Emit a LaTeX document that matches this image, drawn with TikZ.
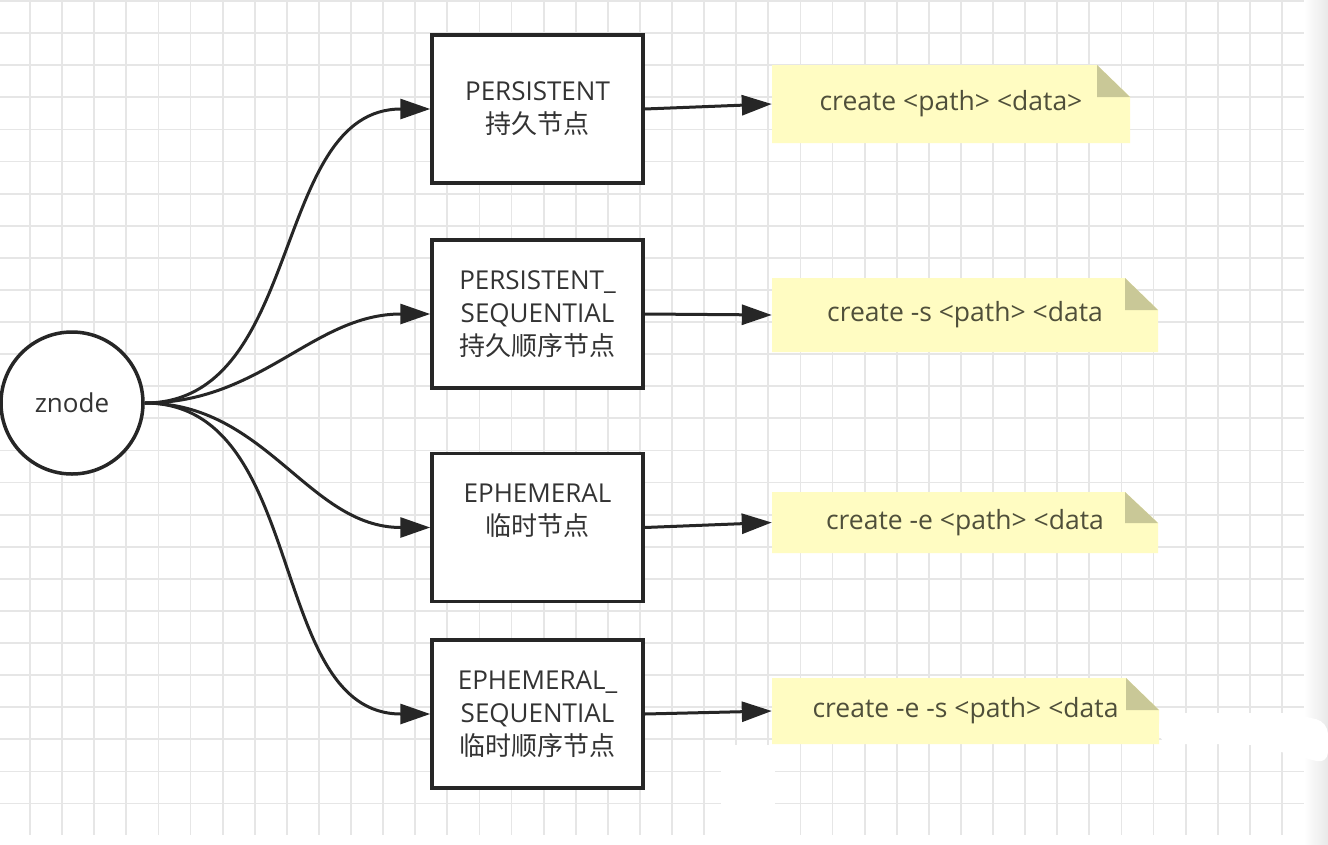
\documentclass[tikz,border=0pt]{standalone}
\usepackage{fontspec}
\setmainfont{Open Sans}
\newfontfamily\cjk{Noto Sans CJK SC}
\usetikzlibrary{arrows.meta}

\definecolor{gridline}{HTML}{E6E6E6}
\definecolor{inkdark}{HTML}{262626}
\definecolor{labeltext}{HTML}{333333}
\definecolor{notefill}{HTML}{FFFCC2}
\definecolor{notefold}{HTML}{C9C897}
\definecolor{notetext}{HTML}{4F4F3A}

\tikzset{
  typebox/.style={draw=inkdark, line width=3.5pt, fill=white, minimum width=211pt,
    minimum height=148pt, inner sep=0pt, align=center, text=labeltext,
    font=\fontsize{26}{33}\selectfont},
  cmdnote/.style={inner sep=0pt, text=notetext, font=\fontsize{26.5}{30}\selectfont},
  link/.style={draw=inkdark, line width=3pt, -{Triangle[length=30pt,width=20pt]}},
}

\begin{document}
\begin{tikzpicture}[x=1pt, y=-1pt]
  \useasboundingbox (0,0) rectangle (1328,844);
  \fill[white] (0,0) rectangle (1328,844);

  % grid paper
  \foreach \gx in {30,62.1,...,1304}
    \draw[gridline, line width=1.8pt] (\gx,0) -- (\gx,835);
  \foreach \gy in {1,33.1,...,835}
    \draw[gridline, line width=1.8pt] (0,\gy) -- (1304,\gy);
  \shade[left color=white, right color=black!9] (1304,0) rectangle (1328,844);

  % the znode and its four types
  \node[circle, draw=inkdark, line width=3.5pt, fill=white, minimum size=142pt,
    text=labeltext, font=\fontsize{26}{30}\selectfont] (zn) at (72,403) {znode};

  \node[typebox] (pers) at (537.5,109) {PERSISTENT\\{\cjk 持久节点}};
  \node[typebox] (perseq) at (537.5,314) {PERSISTENT\_\\SEQUENTIAL\\{\cjk 持久顺序节点}};
  \node[typebox, text depth=36pt] (ephem) at (537.5,527.5) {EPHEMERAL\\{\cjk 临时节点}};
  \node[typebox] (ephseq) at (537.5,714) {EPHEMERAL\_\\SEQUENTIAL\\{\cjk 临时顺序节点}};

  % notes with folded corner
  \fill[notefill] (772,65) -- (1097,65) -- (1130,97) -- (1130,143) -- (772,143) -- cycle;
  \fill[notefold] (1097,65) -- (1097,97) -- (1130,97) -- cycle;
  \node[cmdnote, minimum width=358pt, minimum height=78pt] (cmdp) at (951,104) {create <path> <data>};

  \fill[notefill] (772,278) -- (1125,278) -- (1158,310) -- (1158,352) -- (772,352) -- cycle;
  \fill[notefold] (1125,278) -- (1125,310) -- (1158,310) -- cycle;
  \node[cmdnote, minimum width=386pt, minimum height=74pt] (cmds) at (965,315) {create -s <path> <data};

  \fill[notefill] (772,492) -- (1125,492) -- (1158,523) -- (1158,553) -- (772,553) -- cycle;
  \fill[notefold] (1125,492) -- (1125,523) -- (1158,523) -- cycle;
  \node[cmdnote, minimum width=386pt, minimum height=61pt] (cmde) at (965,522.5) {create -e <path> <data};

  \fill[notefill] (772,678) -- (1126,678) -- (1159,710) -- (1159,744) -- (772,744) -- cycle;
  \fill[notefold] (1126,678) -- (1126,710) -- (1159,710) -- cycle;
  \node[cmdnote, minimum width=387pt, minimum height=66pt] (cmdes) at (965.5,711) {create -e -s <path> <data};

  % screenshot leftovers
  \fill[white] (721,745) rectangle (775,844);
  \fill[white] (0,835) rectangle (1304,844);
  \fill[white, rounded corners=12pt] (1159,713) -- (1290,713) -- (1328,722) -- (1328,764)
    -- (1250,744) -- (1159,744) -- cycle;

  % connectors
  \draw[link] (zn.east) to[out=0, in=180] (pers.west);
  \draw[link] (zn.east) to[out=0, in=180] (perseq.west);
  \draw[link] (zn.east) to[out=0, in=180] (ephem.west);
  \draw[link] (zn.east) to[out=0, in=180] (ephseq.west);

  \draw[link] (pers.east) -- (cmdp.west);
  \draw[link] (perseq.east) -- (cmds.west);
  \draw[link] (ephem.east) -- (cmde.west);
  \draw[link] (ephseq.east) -- (cmdes.west);
\end{tikzpicture}
\end{document}
